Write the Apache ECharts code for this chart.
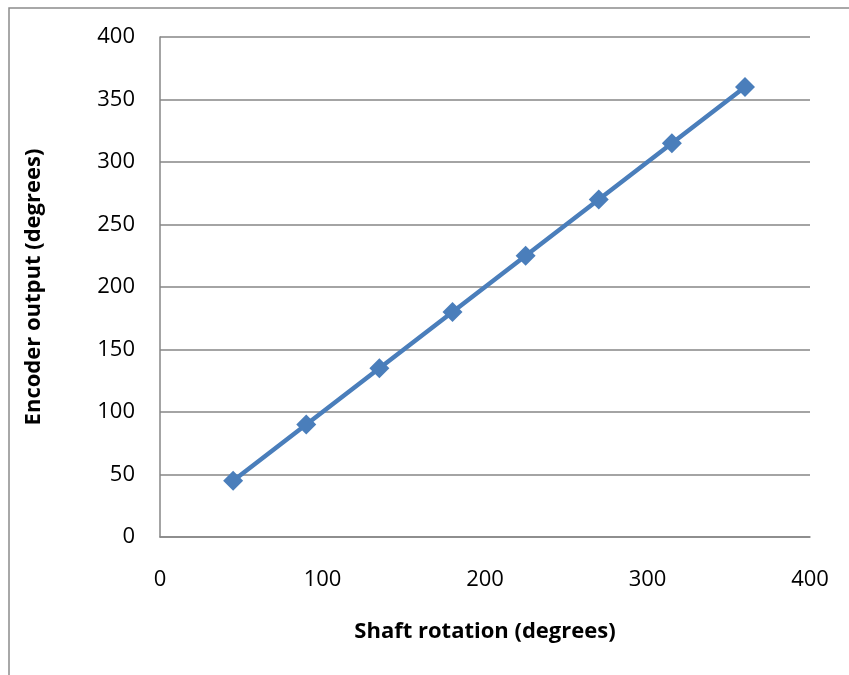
<!DOCTYPE html>
<html>
<head>
<meta charset="utf-8">
<script src="https://cdn.jsdelivr.net/npm/echarts@6/dist/echarts.min.js"></script>
<style>
  html, body { margin: 0; padding: 0; background: #fff; }
  #chart { width: 849px; height: 675px; }
</style>
</head>
<body>
<div id="chart"></div>
<script>
// shaft angle vs encoder reading
var shaftDeg = [45, 90, 135, 180, 225, 270, 315, 360];
var encoderDeg = [45, 90, 135, 180, 225, 270, 315, 360];

var xTitle = 'Shaft rotation (degrees)';
var yTitle = 'Encoder output (degrees)';

function createViz() {
    var myChart = echarts.init(document.getElementById('chart'));
    var font = 'Open Sans';
    var points = shaftDeg.map(function(x, i) { return [x, encoderDeg[i]]; });

    var option = {
        animation: false,
        backgroundColor: '#fff',
        graphic: [
            {
                type: 'rect',
                shape: { x: 9, y: 8, width: 880, height: 720 },
                style: { fill: 'none', stroke: '#8c8c8c', lineWidth: 1.5 },
                silent: true
            }
        ],
        grid: { left: 160, right: 39, top: 37, bottom: 138 },
        xAxis: {
            type: 'value',
            min: 0,
            max: 400,
            interval: 100,
            name: xTitle,
            nameLocation: 'middle',
            nameGap: 84,
            nameTextStyle: { fontFamily: font, fontSize: 22, fontWeight: 'bold', color: '#000' },
            axisLine: { show: true, lineStyle: { color: '#868686', width: 1.5 } },
            axisTick: { show: false },
            splitLine: { show: false },
            axisLabel: { fontFamily: font, fontSize: 22, color: '#000', margin: 32 }
        },
        yAxis: {
            type: 'value',
            min: 0,
            max: 400,
            interval: 50,
            name: yTitle,
            nameLocation: 'middle',
            nameGap: 115,
            nameTextStyle: { fontFamily: font, fontSize: 22, fontWeight: 'bold', color: '#000' },
            axisLine: { show: true, lineStyle: { color: '#868686', width: 1.5 } },
            axisTick: { show: false },
            splitLine: { show: true, lineStyle: { color: '#868686', width: 1.5 } },
            axisLabel: { fontFamily: font, fontSize: 22, color: '#000', margin: 25 }
        },
        series: [
            {
                type: 'line',
                data: points,
                symbol: 'diamond',
                symbolSize: 20,
                lineStyle: { color: '#4a7ebb', width: 4.5 },
                itemStyle: { color: '#4a7ebb' }
            }
        ]
    };

    myChart.setOption(option);
}

createViz();
</script>
</body>
</html>
